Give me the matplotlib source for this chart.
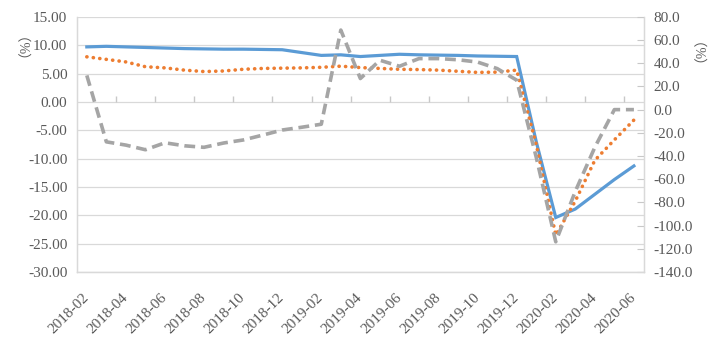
import numpy as np
import matplotlib.pyplot as plt

months = ['2018-02', '2018-03', '2018-04', '2018-05', '2018-06', '2018-07', '2018-08',
          '2018-09', '2018-10', '2018-11', '2018-12', '2019-01', '2019-02', '2019-03',
          '2019-04', '2019-05', '2019-06', '2019-07', '2019-08', '2019-09', '2019-10',
          '2019-11', '2019-12', '2020-01', '2020-02', '2020-03', '2020-04', '2020-05',
          '2020-06']

# left axis (%)
blue = [9.7, 9.8, 9.7, 9.6, 9.5, 9.4, 9.35, 9.3, 9.3, 9.25, 9.2, 8.7, 8.2, 8.3,
        8.0, 8.2, 8.4, 8.3, 8.25, 8.2, 8.1, 8.05, 8.0, -7.0, -20.4, -18.9, -16.3,
        -13.7, -11.3]
orange = [7.95, 7.5, 7.05, 6.2, 6.0, 5.6, 5.35, 5.45, 5.75, 5.9, 5.95, 6.0, 6.1,
          6.3, 6.05, 5.9, 5.75, 5.7, 5.6, 5.4, 5.2, 5.25, 5.6, -7.5, -23.5, -17.5,
          -10.3, -6.7, -3.2]
# right axis (%)
grey = [29.5, -27.8, -30.6, -34.6, -28.6, -31.2, -32.5, -28.8, -26.2, -22.0, -17.6,
        -15.2, -12.6, 68.6, 26.8, 42.6, 37.4, 44.0, 44.0, 43.0, 41.0, 35.4, 25.4,
        -41.0, -114.0, -70.5, -32.5, 0.0, 0.0]

left_ticks = np.arange(-30, 15.1, 5)
right_ticks = np.arange(-140, 80.1, 20)

plt.rcParams['font.family'] = ['Liberation Serif', 'Noto Sans CJK SC']
txt = '#595959'
gridc = '#D9D9D9'

fig = plt.figure(figsize=(7.2, 3.37), dpi=100)
ax = fig.add_axes([0.107, 0.193, 0.787, 0.757])
ax2 = ax.twinx()

x = np.arange(len(months))
ax.plot(x, blue, color='#5B9BD5', lw=2.3, solid_joinstyle='miter', zorder=3)
ax.plot(x, orange, color='#ED7D31', lw=2.6, linestyle=(0, (0.05, 1.75)),
        dash_capstyle='round', zorder=3)
ax2.plot(x, grey, color='#A5A5A5', lw=2.6, linestyle=(0, (3.0, 1.6)),
         dash_capstyle='butt', zorder=3)

ax.set_xlim(-0.5, len(months) - 0.5)
ax.set_ylim(-30, 15)
ax2.set_ylim(-140, 80)
ax.set_yticks(left_ticks)
ax.set_yticklabels(['%.2f' % v for v in left_ticks])
ax2.set_yticks(right_ticks)
ax2.set_yticklabels(['%.1f' % v for v in right_ticks])
ax.set_xticks(x[::2])
ax.set_xticklabels(months[::2], rotation=45, ha='right', va='center',
                   rotation_mode='anchor')

ax.grid(axis='y', color=gridc, lw=0.9)
ax.set_axisbelow(True)
for a in (ax, ax2):
    for s in a.spines.values():
        s.set_color(gridc)
        s.set_linewidth(0.9)
    a.spines['top'].set_visible(False)

ax.tick_params(axis='y', length=0, pad=7, labelsize=11, labelcolor=txt)
ax.tick_params(axis='x', length=0, pad=17, labelsize=11, labelcolor=txt)
ax2.tick_params(axis='y', direction='in', length=5, color='#C8C8C8', pad=7,
                labelsize=11, labelcolor=txt)

# category boundary ticks standing on the zero line
zero = 30 / 45
ax.vlines(np.arange(1.5, len(months) - 1, 2), zero, zero + 6 / 255,
          transform=ax.get_xaxis_transform(), color='#C8C8C8', lw=1.0, zorder=1)

fig.text(0.026, 0.89, '（%）', rotation=90, ha='center', va='center',
         fontsize=10, color=txt)
fig.text(0.964, 0.875, '（%）', rotation=90, ha='center', va='center',
         fontsize=10, color=txt)

fig.savefig('out.png', dpi=100, facecolor='white')
